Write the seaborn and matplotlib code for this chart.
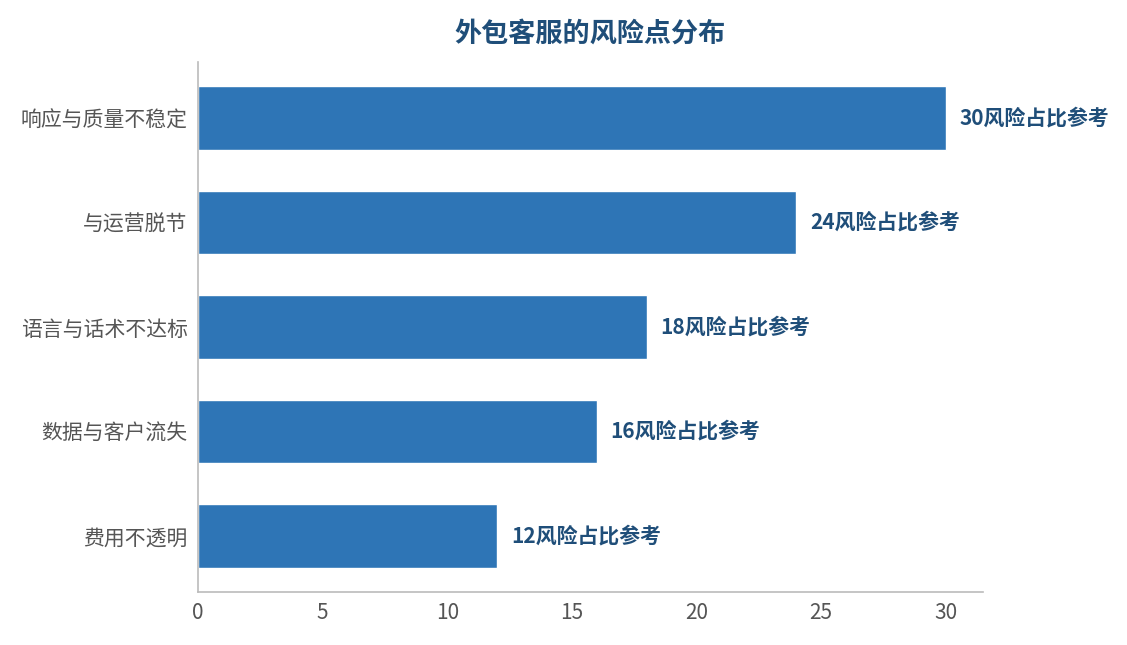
import matplotlib
matplotlib.use("Agg")
import matplotlib.pyplot as plt
import seaborn as sns
import pandas as pd

# data
categories = ['响应与质量不稳定', '与运营脱节', '语言与话术不达标', '数据与客户流失', '费用不透明']
values = [30, 24, 18, 16, 12]
label_suffix = '风险占比参考'
title = '外包客服的风险点分布'

sns.set_style("white")
plt.rcParams['font.family'] = ['Noto Sans CJK SC', 'DejaVu Sans']

df = pd.DataFrame({'cat': categories, 'val': values})

fig = plt.figure(figsize=(11.27, 6.45), dpi=100)
ax = fig.add_axes([0.1757, 0.0822, 0.6965, 0.8217])

sns.barplot(data=df, x='val', y='cat', color='#2E75B6', saturation=1, width=0.61, ax=ax)

ax.bar_label(ax.containers[0], labels=[f'{v}{label_suffix}' for v in values],
             padding=10, fontsize=15, fontweight='bold', color='#1F4E79')

ax.set_xlim(0, 31.5)
ax.set_ylim(4.536, -0.536)
ax.set_xticks([0, 5, 10, 15, 20, 25, 30])
ax.set_xlabel('')
ax.set_ylabel('')
ax.set_title(title, fontsize=19.5, fontweight='bold', color='#1F4E79', pad=15)

sns.despine(ax=ax)
for s in ['left', 'bottom']:
    ax.spines[s].set_color('#BBBBBB')
    ax.spines[s].set_linewidth(1.2)
ax.tick_params(axis='both', colors='#BBBBBB', labelcolor='#555555', labelsize=15,
               length=4, width=1)

fig.savefig('out.png', dpi=100)
